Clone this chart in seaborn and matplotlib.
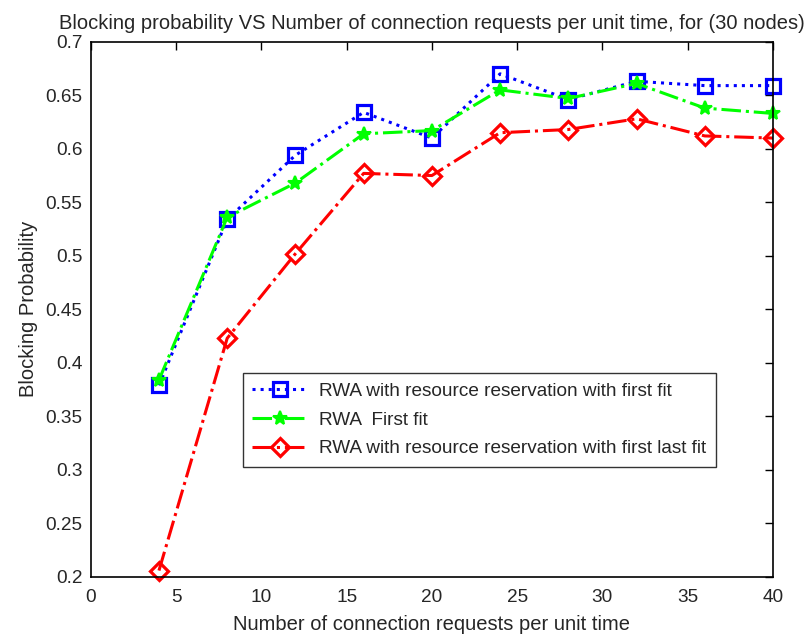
import numpy as np
import pandas as pd
import matplotlib
matplotlib.use('Agg')
import matplotlib.pyplot as plt
import seaborn as sns
from matplotlib.ticker import FormatStrFormatter

# values
requests = [4, 8, 12, 16, 20, 24, 28, 32, 36, 40]
rr_first_fit = [0.379, 0.534, 0.594, 0.634, 0.610, 0.670, 0.646, 0.663, 0.659, 0.659]
first_fit = [0.384, 0.536, 0.568, 0.614, 0.617, 0.655, 0.647, 0.661, 0.638, 0.633]
rr_first_last_fit = [0.206, 0.423, 0.502, 0.577, 0.575, 0.615, 0.618, 0.628, 0.612, 0.610]

labels = ['RWA with resource reservation with first fit',
          'RWA  First fit',
          'RWA with resource reservation with first last fit']

sns.set_theme(style='white')
plt.rcParams['font.family'] = ['Liberation Sans', 'DejaVu Sans']

fig = plt.figure(figsize=(8.08, 6.36), dpi=100)
ax = fig.add_axes([0.1123, 0.0928, 0.8444, 0.8416])

sns.lineplot(x=requests, y=rr_first_fit, ax=ax, color='#0000ff', linestyle=':',
             linewidth=2.2, marker='s', markersize=9.5, markerfacecolor='none',
             markeredgecolor='#0000ff', markeredgewidth=2.3, label=labels[0],
             clip_on=False)
sns.lineplot(x=requests, y=first_fit, ax=ax, color='#00ff00', linestyle='-.',
             linewidth=2.2, marker='*', markersize=10, markerfacecolor='#00ff00',
             markeredgecolor='#00ff00', markeredgewidth=1.5, label=labels[1],
             clip_on=False)
sns.lineplot(x=requests, y=rr_first_last_fit, ax=ax, color='#ff0000', linestyle='-.',
             linewidth=2.2, marker='D', markersize=9.5, markerfacecolor='none',
             markeredgecolor='#ff0000', markeredgewidth=2.3, label=labels[2],
             clip_on=False)

ax.set_xlim(0, 40)
ax.set_ylim(0.2, 0.7)
ax.set_xticks(np.arange(0, 41, 5))
ax.set_yticks(np.arange(0.2, 0.701, 0.05))
ax.yaxis.set_major_formatter(FormatStrFormatter('%g'))
ax.tick_params(direction='in', top=True, right=True, length=6, width=1,
               labelsize=13.7, color='black')
ax.tick_params(axis='x', pad=9)
ax.tick_params(axis='y', pad=6)
for sp in ax.spines.values():
    sp.set_color('black')
    sp.set_linewidth(1.2)

ax.set_title('Blocking probability VS Number of connection requests per unit time, for (30 nodes)',
             fontsize=14.5, pad=9)
ax.set_xlabel('Number of connection requests per unit time', fontsize=14.5, labelpad=6)
ax.set_ylabel('Blocking Probability', fontsize=14.5, labelpad=5)

leg = ax.legend(loc='lower left', bbox_to_anchor=(0.223, 0.2055), fontsize=13.7,
                frameon=True, fancybox=False, handlelength=2.9, borderpad=0.5,
                borderaxespad=0, labelspacing=0.6, handletextpad=0.6)
leg.get_frame().set_edgecolor('black')
leg.get_frame().set_linewidth(1)

fig.savefig('out.png', dpi=100)
